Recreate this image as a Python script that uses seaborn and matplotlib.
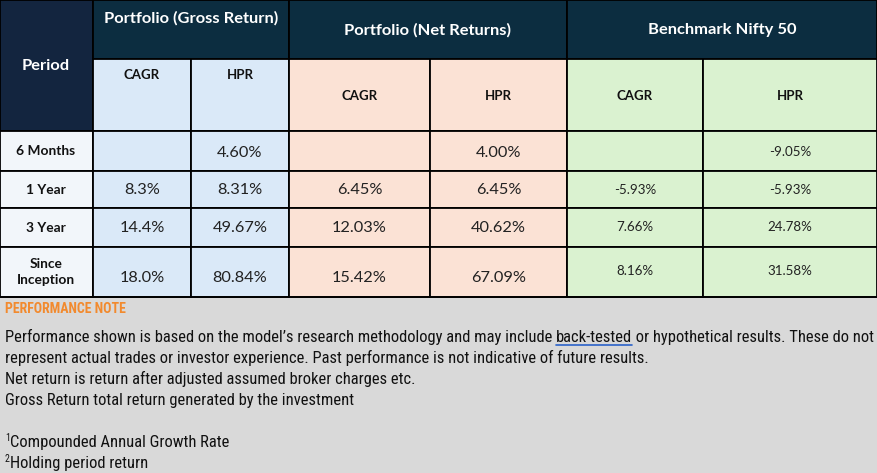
"""
Tabela de desempenho: portfolio vs benchmark
"""
import matplotlib
matplotlib.use("Agg")
import matplotlib.pyplot as plt
from matplotlib.patches import Rectangle
import seaborn as sns

periods = ["6 Months", "1 Year", "3 Year", "Since\nInception"]
groups = ["Portfolio (Gross Return)", "Portfolio (Net Returns)", "Benchmark Nifty 50"]
sub_cols = ["CAGR", "HPR"]
gross_cagr = ["", "8.3%", "14.4%", "18.0%"]
gross_hpr = ["4.60%", "8.31%", "49.67%", "80.84%"]
net_cagr = ["", "6.45%", "12.03%", "15.42%"]
net_hpr = ["4.00%", "6.45%", "40.62%", "67.09%"]
bench_cagr = ["", "-5.93%", "7.66%", "8.16%"]
bench_hpr = ["-9.05%", "-5.93%", "24.78%", "31.58%"]

note_title = "PERFORMANCE NOTE"
note_lines = [
    ["Performance shown is based on the model\u2019s research methodology and may include ",
     "back-tested", " or hypothetical results. These do not"],
    ["represent actual trades or investor experience. Past performance is not indicative of future results."],
    ["Net return is return after adjusted assumed broker charges etc."],
    ["Gross Return total return generated by the investment"],
]
footnotes = ["Compounded Annual Growth Rate", "Holding period return"]

sns.set_theme(style="white")
tab_font = ["Lato", "DejaVu Sans"]
note_font = ["Roboto Condensed", "Roboto", "DejaVu Sans"]
plt.rcParams["font.family"] = tab_font

fig = plt.figure(figsize=(8.77, 4.73), dpi=100)
ax = fig.add_axes([0, 0, 1, 1])
ax.set_xlim(0, 877)
ax.set_ylim(473, 0)
ax.axis("off")
fig.canvas.draw()
renderer = fig.canvas.get_renderer()


def fit(sample, target_px, family, weight="normal"):
    # tamanho de fonte para que 'sample' tenha target_px de largura
    t = ax.text(0, 0, sample, fontsize=10, family=family, fontweight=weight,
                fontstretch="condensed")
    w = t.get_window_extent(renderer).width
    t.remove()
    return 10 * target_px / w


fs_group = fit("Portfolio (Gross Return)", 175, tab_font, "bold")
fs_period = fit("Period", 48, tab_font, "bold")
fs_sub = fit("CAGR", 36, tab_font, "bold")
fs_label = fit("6 Months", 59, tab_font, "bold")
fs_val = fit("49.67%", 55, tab_font)
fs_bench = fit("24.78%", 45, tab_font)
fs_note = fit("".join(note_lines[0]), 865, note_font)
fs_title = 10

# layout (pixels)
xs = [0, 93, 191, 289, 430, 567, 703, 877]
y_grp, y_sub, y_body = 0, 59, 131
row_edges = [131, 171, 208, 247, 297]
c_period, c_head = "#13253F", "#0C2D40"
c_rows = "#F2F6FA"
c_fill = ["#DAE9F8", "#FBE2D5", "#DAF2D0"]
lw = 1.3


def cell(x0, x1, y0, y1, color):
    ax.add_patch(Rectangle((x0, y0), x1 - x0, y1 - y0, facecolor=color,
                           edgecolor="black", linewidth=lw, zorder=1))


# header
cell(xs[0], xs[1], 0, y_body, c_period)
ax.text(46, 66, "Period", color="white", fontsize=fs_period, fontweight="bold",
        ha="center", va="center")
grp_y = [18, 30, 30]
sub_y = [75, 96, 96]
for g in range(3):
    x0, x1 = xs[1 + 2 * g], xs[3 + 2 * g]
    cell(x0, x1, y_grp, y_sub, c_head)
    ax.text((x0 + x1) / 2, grp_y[g], groups[g], color="white", fontsize=fs_group,
            fontweight="bold", ha="center", va="center")
    for k in range(2):
        a, b = xs[1 + 2 * g + k], xs[2 + 2 * g + k]
        cell(a, b, y_sub, y_body, c_fill[g])
        ax.text((a + b) / 2, sub_y[g], sub_cols[k], fontsize=fs_sub, fontweight="bold",
                color="#111111", ha="center", va="center")

# body
cols = [gross_cagr, gross_hpr, net_cagr, net_hpr, bench_cagr, bench_hpr]
val_y = [153, 190, 228, 278]
bench_y = [152, 190, 227, 271]
for i, p in enumerate(periods):
    y0, y1 = row_edges[i], row_edges[i + 1]
    cell(xs[0], xs[1], y0, y1, c_rows)
    ax.text(46, (y0 + y1) / 2, p, fontsize=fs_label, fontweight="bold", color="#111111",
            ha="center", va="center", linespacing=1.4)
    for j, col in enumerate(cols):
        a, b = xs[1 + j], xs[2 + j]
        cell(a, b, y0, y1, c_fill[j // 2])
        if j < 4:
            ax.text((a + b) / 2, val_y[i], col[i], fontsize=fs_val, color="#222222",
                    ha="center", va="center")
        else:
            ax.text((a + b) / 2, bench_y[i], col[i], fontsize=fs_bench, color="#222222",
                    ha="center", va="center")

# note area
ax.add_patch(Rectangle((0, 297), 877, 176, facecolor="#D9D9D9", edgecolor="none", zorder=0))
ax.plot([0, 877], [297, 297], color="black", lw=lw, zorder=2)
ax.text(5, 309, note_title, color="#F28A2E", fontsize=fs_title, fontweight="bold",
        family=note_font, fontstretch="condensed", ha="left", va="center")

inv = ax.transData.inverted()
line_y = [337, 358, 379, 400]
for parts, y in zip(note_lines, line_y):
    x = 5
    for part in parts:
        t = ax.text(x, y, part, fontsize=fs_note, family=note_font, fontstretch="condensed",
                    color="#111111", ha="left", va="center")
        bb = t.get_window_extent(renderer)
        (xa, _), (xb, _) = inv.transform([(bb.x0, 0), (bb.x1, 0)])
        if part == "back-tested":
            ax.plot([xa, xb], [y + 8, y + 8], color="#2A62C9", lw=1.2)
        x = xb

for n, (txt, y) in enumerate(zip(footnotes, [442, 463])):
    ax.text(5, y - 4, str(n + 1), fontsize=fs_note * 0.6, family=note_font,
            fontstretch="condensed", color="#111111", ha="left", va="center")
    ax.text(10, y, txt, fontsize=fs_note, family=note_font, fontstretch="condensed",
            color="#111111", ha="left", va="center")

fig.savefig("out.png", dpi=100)
